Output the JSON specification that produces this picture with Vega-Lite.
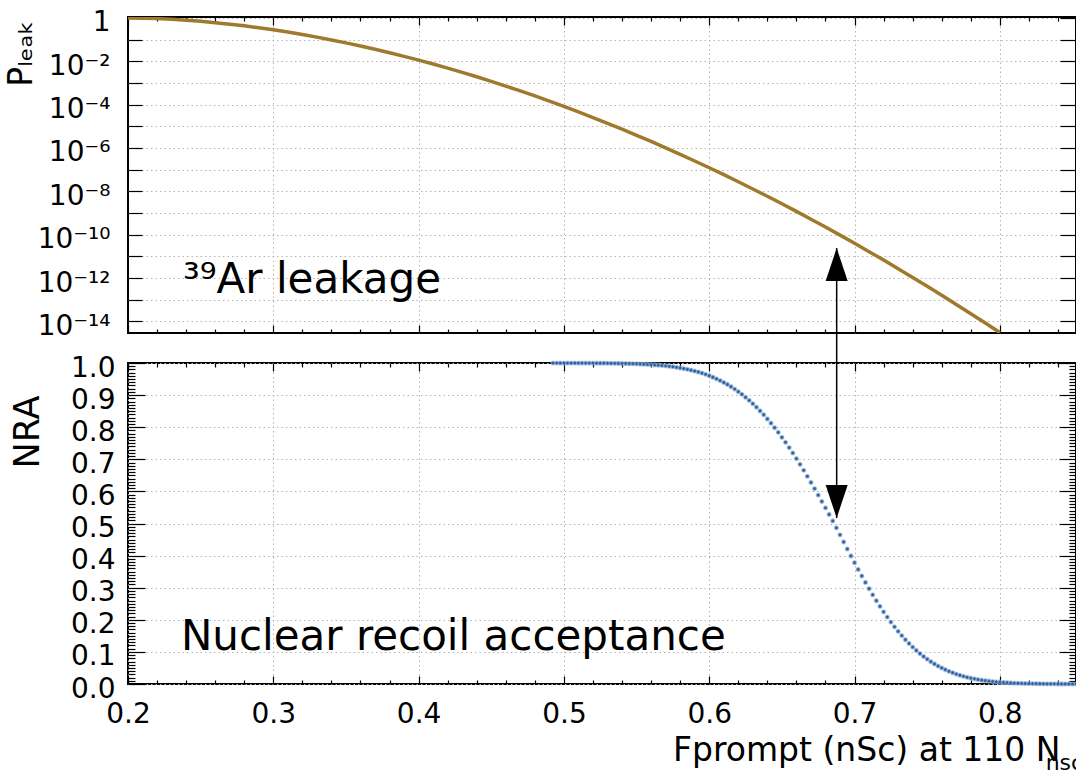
{
  "$schema": "https://vega.github.io/schema/vega-lite/v6.json",
  "padding": {"left": 3, "top": 7, "right": 0, "bottom": 0},
  "background": "white",
  "datasets": {
    "leak": [
      {"x": 0.20, "p": 1}, {"x": 0.21, "p": 0.9816}, {"x": 0.22, "p": 0.936}, {"x": 0.23, "p": 0.870},
      {"x": 0.24, "p": 0.790}, {"x": 0.25, "p": 0.702}, {"x": 0.26, "p": 0.610}, {"x": 0.27, "p": 0.519},
      {"x": 0.28, "p": 0.4329}, {"x": 0.29, "p": 0.354}, {"x": 0.30, "p": 0.284}, {"x": 0.31, "p": 0.2234},
      {"x": 0.32, "p": 0.1725}, {"x": 0.33, "p": 0.1307}, {"x": 0.34, "p": 0.0972}, {"x": 0.35, "p": 0.0710},
      {"x": 0.36, "p": 0.0510}, {"x": 0.37, "p": 0.0360}, {"x": 0.38, "p": 0.02493}, {"x": 0.39, "p": 0.01698},
      {"x": 0.40, "p": 0.01138}, {"x": 0.41, "p": 7.487e-3}, {"x": 0.42, "p": 4.847e-3}, {"x": 0.43, "p": 3.088e-3},
      {"x": 0.44, "p": 1.932e-3}, {"x": 0.45, "p": 1.190e-3}, {"x": 0.46, "p": 7.211e-4}, {"x": 0.47, "p": 4.294e-4},
      {"x": 0.48, "p": 2.522e-4}, {"x": 0.49, "p": 1.456e-4}, {"x": 0.50, "p": 8.272e-5}, {"x": 0.51, "p": 4.622e-5},
      {"x": 0.52, "p": 2.541e-5}, {"x": 0.53, "p": 1.378e-5}, {"x": 0.54, "p": 7.34e-6}, {"x": 0.55, "p": 3.855e-6},
      {"x": 0.56, "p": 1.998e-6}, {"x": 0.57, "p": 1.018e-6}, {"x": 0.58, "p": 5.098e-7}, {"x": 0.59, "p": 2.516e-7},
      {"x": 0.60, "p": 1.224e-7}, {"x": 0.61, "p": 5.866e-8}, {"x": 0.62, "p": 2.767e-8}, {"x": 0.63, "p": 1.288e-8},
      {"x": 0.64, "p": 5.897e-9}, {"x": 0.65, "p": 2.665e-9}, {"x": 0.66, "p": 1.183e-9}, {"x": 0.67, "p": 5.19e-10},
      {"x": 0.68, "p": 2.242e-10}, {"x": 0.69, "p": 9.506e-11}, {"x": 0.70, "p": 3.989e-11}, {"x": 0.71, "p": 1.646e-11},
      {"x": 0.72, "p": 6.71e-12}, {"x": 0.73, "p": 2.705e-12}, {"x": 0.74, "p": 1.068e-12}, {"x": 0.75, "p": 4.164e-13},
      {"x": 0.76, "p": 1.6e-13}, {"x": 0.77, "p": 6.06e-14}, {"x": 0.78, "p": 2.266e-14}, {"x": 0.79, "p": 8.35e-15},
      {"x": 0.80, "p": 3.04e-15}
    ],
    "nra": [
      {"x": 0.4925, "a": 1.0}, {"x": 0.495, "a": 1.0}, {"x": 0.4975, "a": 0.9999}, {"x": 0.5, "a": 0.9999},
      {"x": 0.5025, "a": 0.9999}, {"x": 0.505, "a": 0.9999}, {"x": 0.5075, "a": 0.9999}, {"x": 0.51, "a": 0.9998},
      {"x": 0.5125, "a": 0.9998}, {"x": 0.515, "a": 0.9998}, {"x": 0.5175, "a": 0.9997}, {"x": 0.52, "a": 0.9997},
      {"x": 0.5225, "a": 0.9996}, {"x": 0.525, "a": 0.9995}, {"x": 0.5275, "a": 0.9994}, {"x": 0.53, "a": 0.9993},
      {"x": 0.5325, "a": 0.9991}, {"x": 0.535, "a": 0.999}, {"x": 0.5375, "a": 0.9988}, {"x": 0.54, "a": 0.9986},
      {"x": 0.5425, "a": 0.9983}, {"x": 0.545, "a": 0.998}, {"x": 0.5475, "a": 0.9977}, {"x": 0.55, "a": 0.9973},
      {"x": 0.5525, "a": 0.9967}, {"x": 0.555, "a": 0.9962}, {"x": 0.5575, "a": 0.9956}, {"x": 0.56, "a": 0.9949},
      {"x": 0.5625, "a": 0.9941}, {"x": 0.565, "a": 0.9932}, {"x": 0.5675, "a": 0.9922}, {"x": 0.57, "a": 0.9911},
      {"x": 0.5725, "a": 0.9898}, {"x": 0.575, "a": 0.9884}, {"x": 0.5775, "a": 0.9865}, {"x": 0.58, "a": 0.9846},
      {"x": 0.5825, "a": 0.9826}, {"x": 0.585, "a": 0.9802}, {"x": 0.5875, "a": 0.9777}, {"x": 0.59, "a": 0.975},
      {"x": 0.5925, "a": 0.972}, {"x": 0.595, "a": 0.9685}, {"x": 0.5975, "a": 0.9648}, {"x": 0.6, "a": 0.9603},
      {"x": 0.6025, "a": 0.9558}, {"x": 0.605, "a": 0.9507}, {"x": 0.6075, "a": 0.9454}, {"x": 0.61, "a": 0.9393},
      {"x": 0.6125, "a": 0.9332}, {"x": 0.615, "a": 0.9262}, {"x": 0.6175, "a": 0.919}, {"x": 0.62, "a": 0.9108},
      {"x": 0.6225, "a": 0.9026}, {"x": 0.625, "a": 0.8932}, {"x": 0.6275, "a": 0.8837}, {"x": 0.63, "a": 0.8732},
      {"x": 0.6325, "a": 0.8625}, {"x": 0.635, "a": 0.8507}, {"x": 0.6375, "a": 0.8389}, {"x": 0.64, "a": 0.8259},
      {"x": 0.6425, "a": 0.8126}, {"x": 0.645, "a": 0.7985}, {"x": 0.6475, "a": 0.784}, {"x": 0.65, "a": 0.7686},
      {"x": 0.6525, "a": 0.753}, {"x": 0.655, "a": 0.7365}, {"x": 0.6575, "a": 0.7197}, {"x": 0.66, "a": 0.7022},
      {"x": 0.6625, "a": 0.6844}, {"x": 0.665, "a": 0.6659}, {"x": 0.6675, "a": 0.6472}, {"x": 0.67, "a": 0.628},
      {"x": 0.6725, "a": 0.6087}, {"x": 0.675, "a": 0.5887}, {"x": 0.6775, "a": 0.5687}, {"x": 0.68, "a": 0.5486},
      {"x": 0.6825, "a": 0.5284}, {"x": 0.685, "a": 0.5081}, {"x": 0.6875, "a": 0.4867}, {"x": 0.69, "a": 0.4646},
      {"x": 0.6925, "a": 0.4427}, {"x": 0.695, "a": 0.4207}, {"x": 0.6975, "a": 0.399}, {"x": 0.7, "a": 0.3779},
      {"x": 0.7025, "a": 0.3568}, {"x": 0.705, "a": 0.3365}, {"x": 0.7075, "a": 0.3164}, {"x": 0.71, "a": 0.297},
      {"x": 0.7125, "a": 0.2779}, {"x": 0.715, "a": 0.2597}, {"x": 0.7175, "a": 0.242}, {"x": 0.72, "a": 0.2249},
      {"x": 0.7225, "a": 0.2087}, {"x": 0.725, "a": 0.193}, {"x": 0.7275, "a": 0.1783}, {"x": 0.73, "a": 0.1641},
      {"x": 0.7325, "a": 0.1508}, {"x": 0.735, "a": 0.1381}, {"x": 0.7375, "a": 0.1263}, {"x": 0.74, "a": 0.1151},
      {"x": 0.7425, "a": 0.1046}, {"x": 0.745, "a": 0.0949}, {"x": 0.7475, "a": 0.0858}, {"x": 0.75, "a": 0.0775},
      {"x": 0.7525, "a": 0.0697}, {"x": 0.755, "a": 0.0626}, {"x": 0.7575, "a": 0.056}, {"x": 0.76, "a": 0.0501},
      {"x": 0.7625, "a": 0.0446}, {"x": 0.765, "a": 0.0396}, {"x": 0.7675, "a": 0.0351}, {"x": 0.77, "a": 0.031},
      {"x": 0.7725, "a": 0.0273}, {"x": 0.775, "a": 0.024}, {"x": 0.7775, "a": 0.021}, {"x": 0.78, "a": 0.0184},
      {"x": 0.7825, "a": 0.016}, {"x": 0.785, "a": 0.0139}, {"x": 0.7875, "a": 0.012}, {"x": 0.79, "a": 0.0104},
      {"x": 0.7925, "a": 0.009}, {"x": 0.795, "a": 0.0077}, {"x": 0.7975, "a": 0.0066}, {"x": 0.8, "a": 0.0057},
      {"x": 0.8025, "a": 0.0048}, {"x": 0.805, "a": 0.0041}, {"x": 0.8075, "a": 0.0035}, {"x": 0.81, "a": 0.0029},
      {"x": 0.8125, "a": 0.0025}, {"x": 0.815, "a": 0.0021}, {"x": 0.8175, "a": 0.0017}, {"x": 0.82, "a": 0.0015},
      {"x": 0.8225, "a": 0.0012}, {"x": 0.825, "a": 0.001}, {"x": 0.8275, "a": 0.0008}, {"x": 0.83, "a": 0.0007},
      {"x": 0.8325, "a": 0.0006}, {"x": 0.835, "a": 0.0005}, {"x": 0.8375, "a": 0.0004}, {"x": 0.84, "a": 0.0003},
      {"x": 0.8425, "a": 0.0003}, {"x": 0.845, "a": 0.0002}, {"x": 0.8475, "a": 0.0002}, {"x": 0.85, "a": 0.0001},
      {"x": 0.8525, "a": 0.0001}
    ]
  },
  "vconcat": [
    {
      "width": 948,
      "height": 316,
      "layer": [
        {
          "data": {"name": "leak"},
          "mark": {"type": "line", "color": "#a07a2c", "strokeWidth": 3.5, "clip": true},
          "encoding": {
            "x": {"field": "x", "type": "quantitative",
              "scale": {"domain": [0.2, 0.8524], "nice": false, "zero": false},
              "axis": {"orient": "bottom", "values": [0.3, 0.4, 0.5, 0.6, 0.7, 0.8], "labels": false, "ticks": false, "grid": true, "title": null}},
            "y": {"field": "p", "type": "quantitative",
              "scale": {"type": "log", "domain": [2.9e-15, 1.11], "nice": false},
              "axis": {"orient": "left",
                "values": [1e-14, 1e-13, 1e-12, 1e-11, 1e-10, 1e-9, 1e-8, 1e-7, 1e-6, 1e-5, 1e-4, 1e-3, 1e-2, 1e-1, 1],
                "ticks": false, "grid": true, "labelPadding": 18, "labelOffset": 5,
                "labelExpr": "datum.value > 0.5 ? '1' : (round(log(datum.value)/LN10) % 2 != 0 ? '' : '10⁻' + replace(replace(replace(replace(replace(replace(format(-round(log(datum.value)/LN10), 'd'), '0', '⁰'), '1', '¹'), '2', '²'), '4', '⁴'), '6', '⁶'), '8', '⁸'))",
                "title": "Pₗₑₐₖ", "titleFontSize": 33, "titleAlign": "right", "titleBaseline": "alphabetic",
                "titleX": -97, "titleY": 3}}
          }
        },
        {
          "data": {"values": [{"x": 0.2378, "p": 2.09e-13, "t": "³⁹Ar leakage"}]},
          "mark": {"type": "text", "align": "left", "baseline": "alphabetic", "fontSize": 42, "font": "DejaVu Sans", "color": "black"},
          "encoding": {
            "x": {"field": "x", "type": "quantitative",
              "axis": {"orient": "bottom", "values": [0.2, 0.22, 0.24, 0.26, 0.28, 0.3, 0.32, 0.34, 0.36, 0.38, 0.4, 0.42, 0.44, 0.46, 0.48, 0.5, 0.52, 0.54, 0.56, 0.58, 0.6, 0.62, 0.64, 0.66, 0.68, 0.7, 0.72, 0.74, 0.76, 0.78, 0.8, 0.82, 0.84],
                "labels": false, "grid": false, "title": null,
                "tickSize": {"condition": {"test": "abs(datum.value*10 - round(datum.value*10)) < 0.001", "value": -8}, "value": -4}}},
            "y": {"field": "p", "type": "quantitative",
              "axis": {"orient": "left", "values": [1e-14, 1e-13, 1e-12, 1e-11, 1e-10, 1e-9, 1e-8, 1e-7, 1e-6, 1e-5, 1e-4, 1e-3, 1e-2, 1e-1, 1],
                "labels": false, "grid": false, "title": null, "tickSize": -14}},
            "text": {"field": "t"}
          }
        },
        {
          "data": {"values": [{"x": 0.6877, "p": 2.4e-11, "p2": 1.2e-16}]},
          "mark": {"type": "rule", "strokeWidth": 1.5, "color": "black"},
          "encoding": {
            "x": {"field": "x", "type": "quantitative",
              "axis": {"orient": "top", "values": [0.2, 0.22, 0.24, 0.26, 0.28, 0.3, 0.32, 0.34, 0.36, 0.38, 0.4, 0.42, 0.44, 0.46, 0.48, 0.5, 0.52, 0.54, 0.56, 0.58, 0.6, 0.62, 0.64, 0.66, 0.68, 0.7, 0.72, 0.74, 0.76, 0.78, 0.8, 0.82, 0.84],
                "labels": false, "grid": false, "title": null,
                "tickSize": {"condition": {"test": "abs(datum.value*10 - round(datum.value*10)) < 0.001", "value": -8}, "value": -4}}},
            "y": {"field": "p", "type": "quantitative",
              "axis": {"orient": "right", "values": [1e-14, 1e-13, 1e-12, 1e-11, 1e-10, 1e-9, 1e-8, 1e-7, 1e-6, 1e-5, 1e-4, 1e-3, 1e-2, 1e-1, 1],
                "labels": false, "grid": false, "title": null, "tickSize": -16}},
            "y2": {"field": "p2"}
          }
        },
        {
          "data": {"values": [{"x": 0.6877, "p": 2.4e-11}]},
          "mark": {"type": "point", "shape": "M0,0L-0.55,1.65L0.55,1.65Z", "size": 1600, "filled": true, "color": "black", "opacity": 1},
          "encoding": {
            "x": {"field": "x", "type": "quantitative", "axis": null},
            "y": {"field": "p", "type": "quantitative", "axis": null}
          }
        }
      ],
      "resolve": {"axis": {"x": "independent", "y": "independent"}}
    },
    {
      "width": 948,
      "height": 321,
      "layer": [
        {
          "data": {"name": "nra"},
          "mark": {"type": "circle", "size": 14, "color": "#2b5c99", "opacity": 1, "stroke": "#8fb1da", "strokeWidth": 1.4, "strokeOpacity": 0.6},
          "encoding": {
            "x": {"field": "x", "type": "quantitative",
              "scale": {"domain": [0.2, 0.8524], "nice": false, "zero": false},
              "axis": {"orient": "bottom", "values": [0.2, 0.3, 0.4, 0.5, 0.6, 0.7, 0.8], "format": ".1f", "ticks": false, "grid": true, "labelPadding": 16,
                "title": "Fprompt (nSc) at 110 N", "titleFontSize": 33, "titleAlign": "right", "titleBaseline": "alphabetic", "titleX": 932, "titleY": 76}},
            "y": {"field": "a", "type": "quantitative",
              "scale": {"domain": [0, 1], "nice": false, "zero": false},
              "axis": {"orient": "left", "values": [0, 0.1, 0.2, 0.3, 0.4, 0.5, 0.6, 0.7, 0.8, 0.9, 1.0], "format": ".1f", "ticks": false, "grid": true,
                "labelPadding": 13, "labelOffset": 5,
                "title": "NRA", "titleFontSize": 35, "titleAlign": "right", "titleBaseline": "alphabetic", "titleX": -90, "titleY": 32}}
          }
        },
        {
          "data": {"values": [{"x": 0.2364, "a": 0.105, "t": "Nuclear recoil acceptance"}]},
          "mark": {"type": "text", "align": "left", "baseline": "alphabetic", "fontSize": 42, "font": "DejaVu Sans", "color": "black"},
          "encoding": {
            "x": {"field": "x", "type": "quantitative",
              "axis": {"orient": "bottom", "values": [0.2, 0.22, 0.24, 0.26, 0.28, 0.3, 0.32, 0.34, 0.36, 0.38, 0.4, 0.42, 0.44, 0.46, 0.48, 0.5, 0.52, 0.54, 0.56, 0.58, 0.6, 0.62, 0.64, 0.66, 0.68, 0.7, 0.72, 0.74, 0.76, 0.78, 0.8, 0.82, 0.84],
                "labels": false, "grid": false, "title": null,
                "tickSize": {"condition": {"test": "abs(datum.value*10 - round(datum.value*10)) < 0.001", "value": -8}, "value": -4}}},
            "y": {"field": "a", "type": "quantitative",
              "axis": {"orient": "left", "values": [0, 0.01, 0.02, 0.03, 0.04, 0.05, 0.06, 0.07, 0.08, 0.09, 0.1, 0.11, 0.12, 0.13, 0.14, 0.15, 0.16, 0.17, 0.18, 0.19, 0.2, 0.21, 0.22, 0.23, 0.24, 0.25, 0.26, 0.27, 0.28, 0.29, 0.3, 0.31, 0.32, 0.33, 0.34, 0.35, 0.36, 0.37, 0.38, 0.39, 0.4, 0.41, 0.42, 0.43, 0.44, 0.45, 0.46, 0.47, 0.48, 0.49, 0.5, 0.51, 0.52, 0.53, 0.54, 0.55, 0.56, 0.57, 0.58, 0.59, 0.6, 0.61, 0.62, 0.63, 0.64, 0.65, 0.66, 0.67, 0.68, 0.69, 0.7, 0.71, 0.72, 0.73, 0.74, 0.75, 0.76, 0.77, 0.78, 0.79, 0.8, 0.81, 0.82, 0.83, 0.84, 0.85, 0.86, 0.87, 0.88, 0.89, 0.9, 0.91, 0.92, 0.93, 0.94, 0.95, 0.96, 0.97, 0.98, 0.99, 1.0],
                "labels": false, "grid": false, "title": null,
                "tickSize": {"condition": {"test": "abs(datum.value*10 - round(datum.value*10)) < 0.001", "value": -17}, "value": -7}}},
            "text": {"field": "t"}
          }
        },
        {
          "data": {"values": [{"x": 0.6877, "a": 1.0, "a2": 0.517}]},
          "mark": {"type": "rule", "strokeWidth": 1.5, "color": "black"},
          "encoding": {
            "x": {"field": "x", "type": "quantitative",
              "axis": {"orient": "top", "values": [0.2, 0.22, 0.24, 0.26, 0.28, 0.3, 0.32, 0.34, 0.36, 0.38, 0.4, 0.42, 0.44, 0.46, 0.48, 0.5, 0.52, 0.54, 0.56, 0.58, 0.6, 0.62, 0.64, 0.66, 0.68, 0.7, 0.72, 0.74, 0.76, 0.78, 0.8, 0.82, 0.84],
                "labels": false, "grid": false, "title": null,
                "tickSize": {"condition": {"test": "abs(datum.value*10 - round(datum.value*10)) < 0.001", "value": -8}, "value": -4}}},
            "y": {"field": "a", "type": "quantitative",
              "axis": {"orient": "right", "values": [0, 0.01, 0.02, 0.03, 0.04, 0.05, 0.06, 0.07, 0.08, 0.09, 0.1, 0.11, 0.12, 0.13, 0.14, 0.15, 0.16, 0.17, 0.18, 0.19, 0.2, 0.21, 0.22, 0.23, 0.24, 0.25, 0.26, 0.27, 0.28, 0.29, 0.3, 0.31, 0.32, 0.33, 0.34, 0.35, 0.36, 0.37, 0.38, 0.39, 0.4, 0.41, 0.42, 0.43, 0.44, 0.45, 0.46, 0.47, 0.48, 0.49, 0.5, 0.51, 0.52, 0.53, 0.54, 0.55, 0.56, 0.57, 0.58, 0.59, 0.6, 0.61, 0.62, 0.63, 0.64, 0.65, 0.66, 0.67, 0.68, 0.69, 0.7, 0.71, 0.72, 0.73, 0.74, 0.75, 0.76, 0.77, 0.78, 0.79, 0.8, 0.81, 0.82, 0.83, 0.84, 0.85, 0.86, 0.87, 0.88, 0.89, 0.9, 0.91, 0.92, 0.93, 0.94, 0.95, 0.96, 0.97, 0.98, 0.99, 1.0],
                "labels": false, "grid": false, "title": null,
                "tickSize": {"condition": {"test": "abs(datum.value*10 - round(datum.value*10)) < 0.001", "value": -17}, "value": -7}}},
            "y2": {"field": "a2"}
          }
        },
        {
          "data": {"values": [{"x": 0.6877, "a": 0.517}]},
          "mark": {"type": "point", "shape": "M0,0L-0.55,-1.65L0.55,-1.65Z", "size": 1600, "filled": true, "color": "black", "opacity": 1},
          "encoding": {
            "x": {"field": "x", "type": "quantitative", "axis": null},
            "y": {"field": "a", "type": "quantitative", "axis": null}
          }
        },
        {
          "data": {"values": [{"x": 0.8315, "a": -0.268, "t": "nsc"}]},
          "mark": {"type": "text", "align": "left", "baseline": "alphabetic", "fontSize": 22, "font": "DejaVu Sans", "color": "black"},
          "encoding": {
            "x": {"field": "x", "type": "quantitative", "axis": null},
            "y": {"field": "a", "type": "quantitative", "axis": null},
            "text": {"field": "t"}
          }
        }
      ],
      "resolve": {"axis": {"x": "independent", "y": "independent"}}
    }
  ],
  "spacing": 30,
  "bounds": "flush",
  "config": {
    "font": "DejaVu Sans",
    "view": {"stroke": "black", "strokeWidth": 2},
    "axis": {
      "domain": false, "labelFont": "DejaVu Sans", "titleFont": "DejaVu Sans", "labelColor": "black", "titleColor": "black",
      "titleFontWeight": "normal", "labelFontSize": 28, "gridColor": "#b4b4b4", "gridDash": [1.5, 3], "gridWidth": 1,
      "tickColor": "black", "tickWidth": 1.2, "labelFlush": false, "labelOverlap": false
    }
  }
}
